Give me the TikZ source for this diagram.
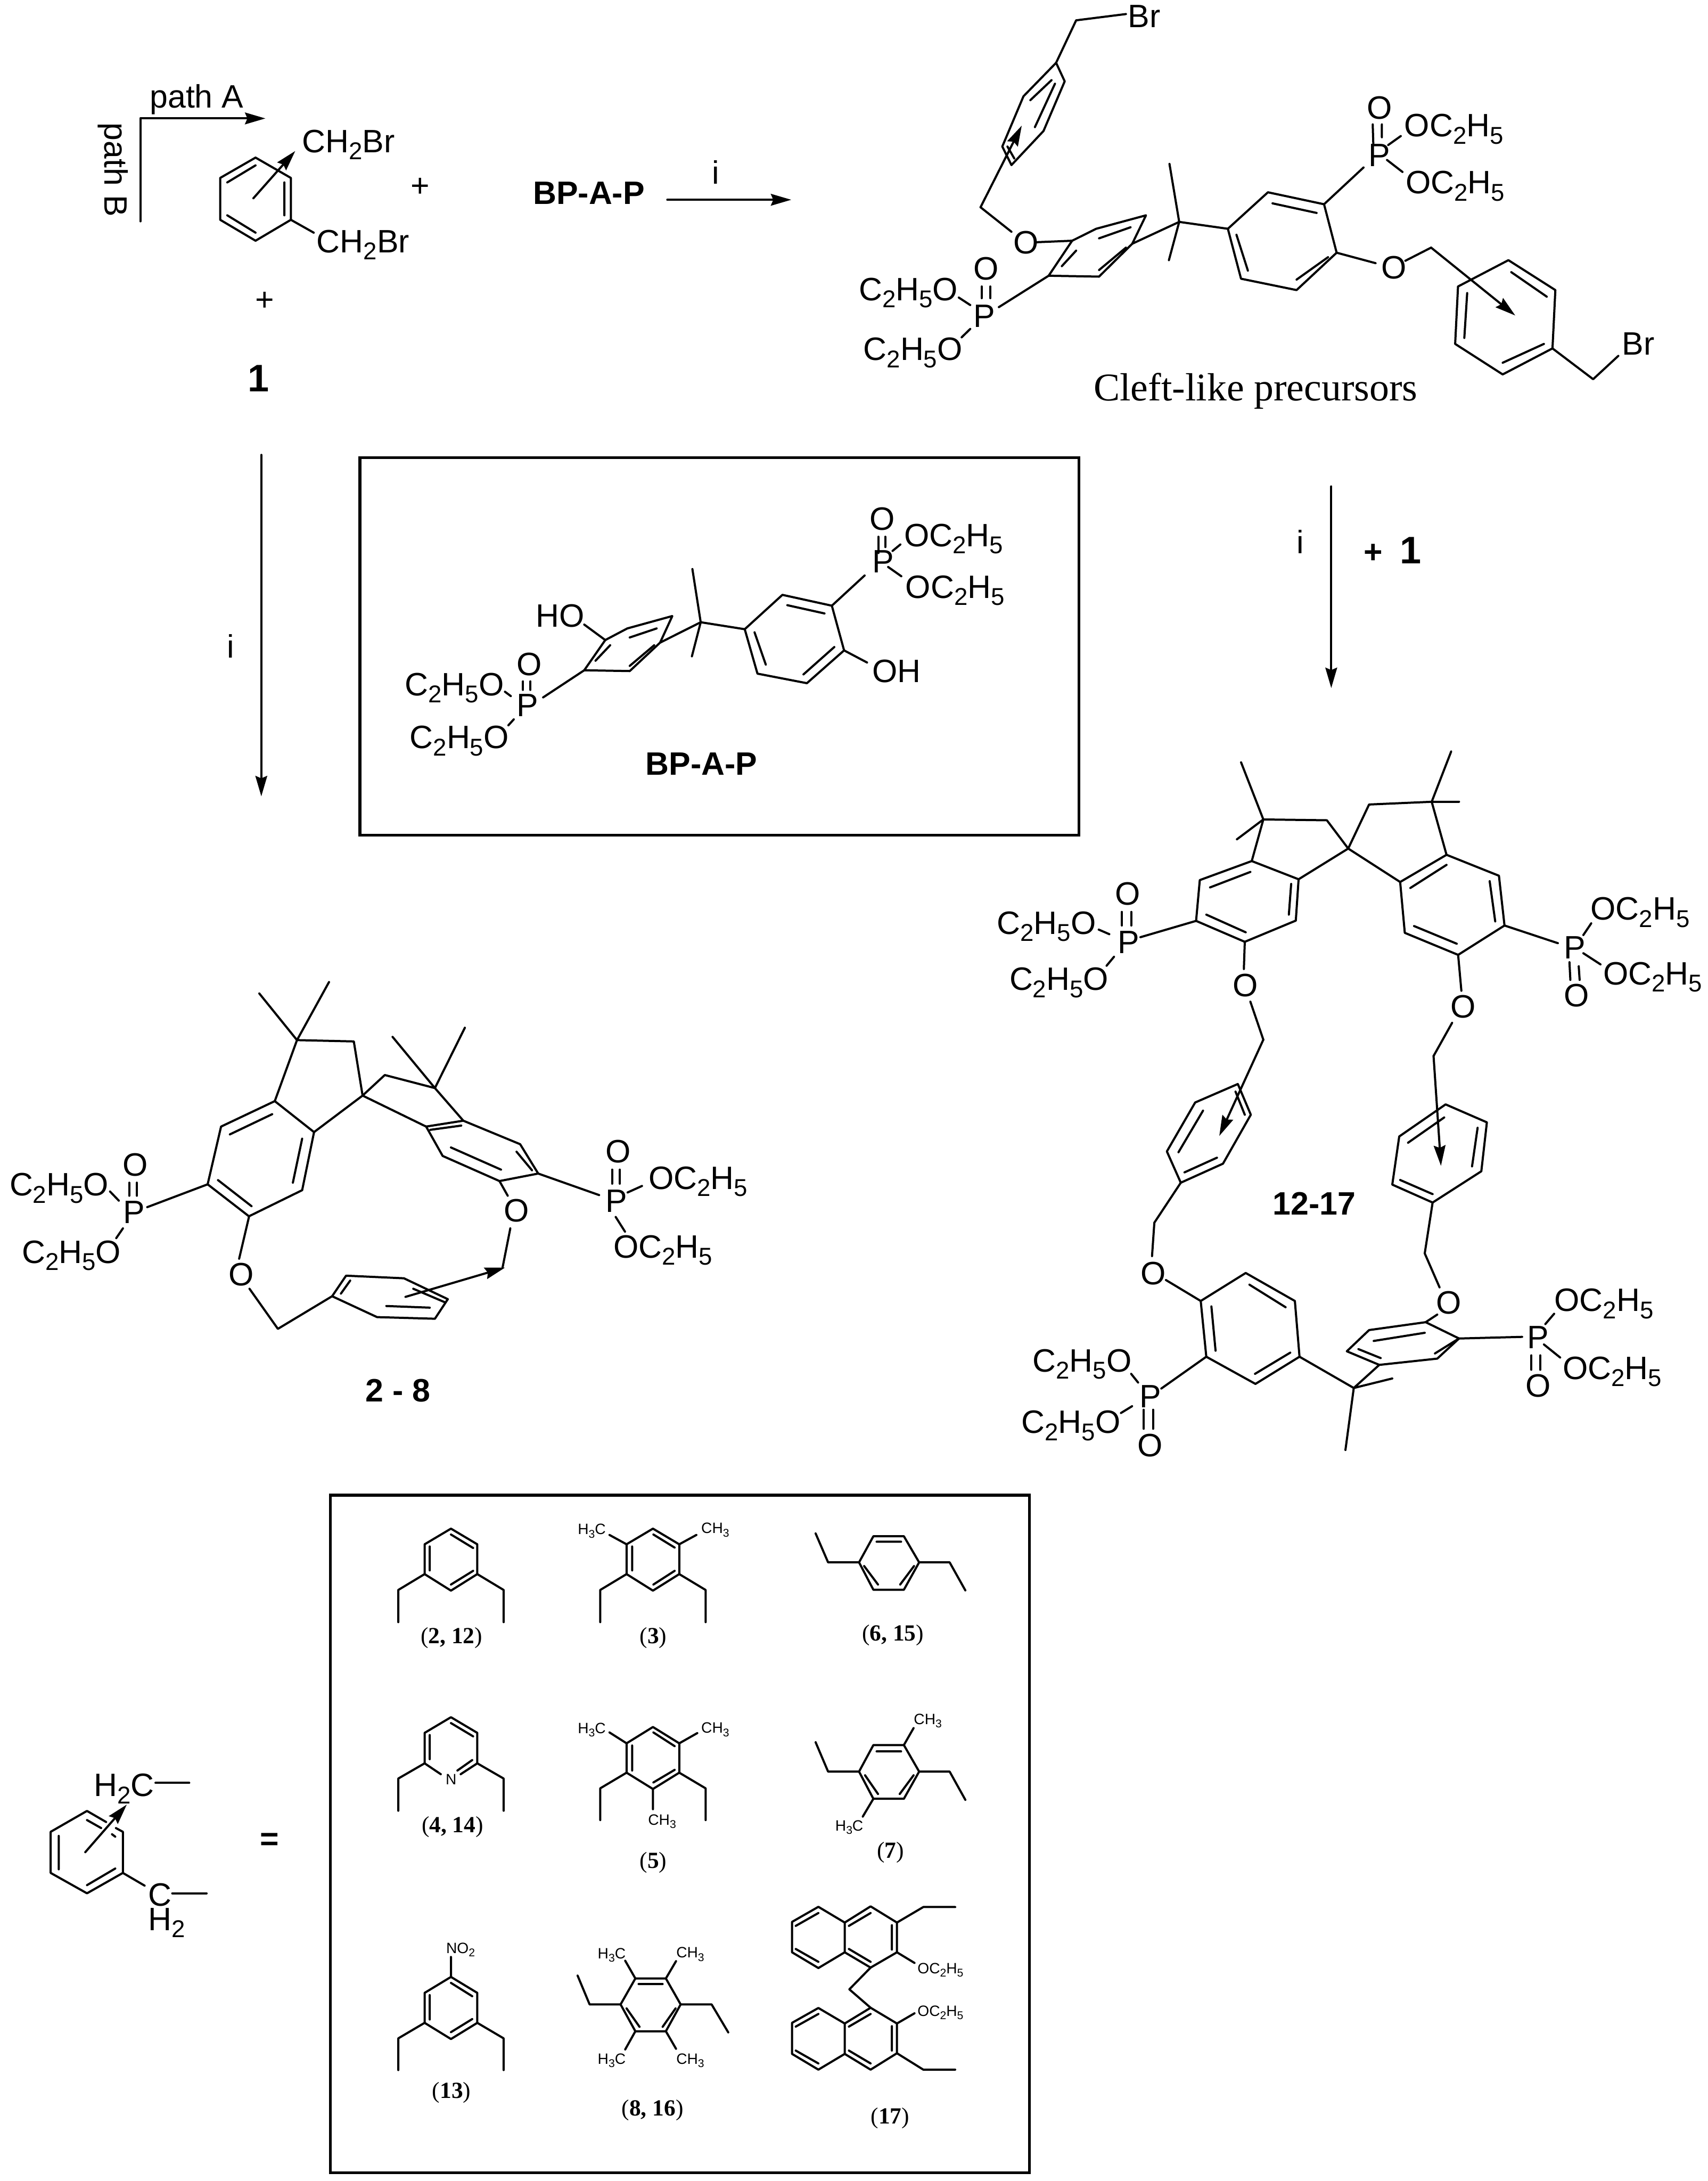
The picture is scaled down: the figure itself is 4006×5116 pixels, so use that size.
\documentclass[tikz,border=0pt]{standalone}
\usepackage{fontspec}
\setmainfont{Liberation Sans}
\newfontfamily\tmsfont{Liberation Serif}
\usetikzlibrary{arrows.meta}
\newcounter{lbl}
\newcommand{\sbs}[1]{\raisebox{-0.22em}{\scalebox{0.75}{#1}}}
\newcommand{\oet}{OC\sbs{2}H\sbs{5}}
\newcommand{\eto}{C\sbs{2}H\sbs{5}O}
\newcommand{\met}{CH\sbs{3}}
\newcommand{\hcm}{H\sbs{3}C}
\newcommand{\Tx}[3][chem]{\stepcounter{lbl}\node[#1] (t\thelbl) at (#2) {#3};}
\tikzset{
  bond/.style={line width=1.42pt,line cap=round,line join=round},
  frame/.style={line width=1.9pt},
  arr/.style={bond,-{Stealth[length=13.6pt,width=7.8pt,inset=1.6pt]}},
  chem/.style={anchor=base west,inner sep=0pt,font=\fontsize{21.6}{24}\selectfont},
  twoline/.style={anchor=base west,inner sep=0pt,align=left,font=\fontsize{21.6}{16.2}\selectfont},
  small/.style={anchor=base west,inner sep=0pt,font=\fontsize{10}{12}\selectfont},
  cmpd/.style={anchor=base west,inner sep=0pt,font=\tmsfont\fontsize{15.4}{18}\selectfont},
  cleft/.style={anchor=base west,inner sep=0pt,font=\tmsfont\fontsize{26.2}{30}\selectfont},
  boldl/.style={anchor=base west,inner sep=0pt,font=\bfseries\fontsize{21.6}{24}\selectfont},
  boldc/.style={inner sep=0pt,font=\bfseries\fontsize{21.6}{24}\selectfont},
  one/.style={inner sep=0pt,font=\bfseries\fontsize{25.6}{28}\selectfont},
  plain/.style={inner sep=0pt,font=\fontsize{21.6}{24}\selectfont},
}
\begin{document}
\begin{tikzpicture}[x=0.01cm,y=-0.01cm]
\path[use as bounding box] (0,0) rectangle (4006,5116);
% frames
\node[draw,frame,inner sep=0pt,minimum width=1687*0.01cm,minimum height=886*0.01cm,anchor=north west] (boxa) at (841,1070) {};
\node[draw,frame,inner sep=0pt,minimum width=1640*0.01cm,minimum height=1589*0.01cm,anchor=north west] (boxb) at (772,3504) {};
% long reaction arrows
\coordinate (la) at (613,1067); \coordinate (lb) at (613,1868);
\draw[arr] (la) -- (lb);
\Tx[plain]{541,1516}{i}
\coordinate (ra) at (3123,1141); \coordinate (rb) at (3123,1614);
\draw[arr] (ra) -- (rb);
\Tx[plain]{3051,1271}{i}
\Tx[boldc]{3221,1298}{+}
\Tx[one]{3309,1291}{1}
% --- top left reagent
\begin{scope}[xscale=1.2755,yscale=0.7015]
\coordinate (pa) at (258,740); \coordinate (pb) at (258,396); \coordinate (pc) at (488,396);
\draw[arr] (pa) -- (pb) -- (pc);
\Tx{275,360}{path A}
\Tx[chem,rotate=-90]{192,410}{path B}
\draw[bond] (470,527)--(535,595)--(535,735)--(470,805)--(405,735)--(405,595)--cycle;
\draw[bond] (418,610)--(470,553) (523,610)--(523,720) (418,720)--(470,778) (535,735)--(577,778);
\draw[arr] (466,663)--(543,505);
\Tx{555,510}{CH\sbs{2}Br}
\Tx{582,845}{CH\sbs{2}Br}
\Tx[plain]{773,627}{+}
\Tx[plain]{487,1007}{+}
\Tx[one]{475,1265}{1}
\Tx[boldl]{980,682}{BP-A-P}
\coordinate (ia) at (1227,668); \coordinate (ib) at (1455,668);
\draw[arr] (ia)--(ib);
\Tx{1309,615}{i}
\end{scope}
% --- cleft precursor
\begin{scope}[shift={(1900,0)},xscale=1.3431,yscale=0.7015]
\Tx{555,92}{Br}
\draw[bond] (552,47)--(465,68)--(430,210);
\draw[bond] (430,210)--(445,272)--(408,438)--(352,552)--(336,490)--(373,322)--cycle;
\draw[bond] (385,335)--(422,268) (393,425)--(428,280) (357,530)--(345,490);
\draw[bond] (352,775)--(298,693);
\draw[arr] (298,693)--(370,420);
\Tx{355,848}{O}
\draw[bond] (395,810)--(458,805);
\draw[bond] (458,805)--(500,765)--(587,720)--(563,815)--(505,925)--(417,922)--cycle;
\draw[bond] (505,797)--(560,760) (505,903)--(552,828) (440,890)--(465,838);
\draw[bond] (417,922)--(330,1027);
\Tx{285,1095}{P}
\Tx{285,935}{O}
\draw[bond] (300,958)--(300,997) (315,958)--(315,997);
\Tx{85,1005}{\eto}
\draw[bond] (260,995)--(280,1020);
\Tx{93,1205}{\eto}
\draw[bond] (265,1128)--(280,1100);
\draw[bond] (628,548)--(645,742)--(627,870);
\draw[bond] (563,815)--(645,742)--(730,765);
\draw[bond] (730,765)--(800,643)--(898,683)--(920,845)--(850,970)--(753,932)--cycle;
\draw[bond] (808,680)--(885,712) (745,785)--(765,905) (850,935)--(905,860);
\draw[bond] (898,683)--(967,560);
\Tx{975,557}{P}
\Tx{972,398}{O}
\draw[bond] (983,416)--(984,480) (999,416)--(999,459);
\Tx{1038,457}{\oet}
\draw[bond] (1010,485)--(1032,455);
\Tx{1040,648}{\oet}
\draw[bond] (1008,535)--(1035,575);
\draw[bond] (920,845)--(988,880);
\Tx{998,932}{O}
\draw[bond] (1040,872)--(1085,828);
\draw[arr] (1085,828)--(1232,1055);
\draw[bond] (1220,870)--(1302,970)--(1297,1165)--(1210,1252)--(1127,1150)--(1132,958)--cycle;
\draw[bond] (1225,910)--(1287,992) (1148,980)--(1143,1130) (1210,1213)--(1282,1150);
\draw[bond] (1297,1165)--(1368,1268)--(1412,1190);
\Tx{1418,1187}{Br}
\Tx[cleft]{495,1340}{Cleft-like precursors}
\end{scope}
% --- BP-A-P
\begin{scope}[shift={(800,1050)},xscale=1.148,yscale=0.6059]
\draw[bond] (540,745)--(585,700)--(677,652)--(652,755)--(590,865)--(497,862)--cycle;
\draw[bond] (590,735)--(645,700) (590,845)--(640,765) (520,825)--(550,765);
\Tx{398,695}{HO}
\draw[bond] (497,685)--(540,745);
\draw[bond] (497,862)--(413,967);
\Tx{358,1040}{P}
\Tx{358,882}{O}
\draw[bond] (372,905)--(372,938) (387,905)--(387,938);
\Tx{130,960}{\eto}
\draw[bond] (335,945)--(347,962);
\Tx{140,1165}{\eto}
\draw[bond] (342,1075)--(353,1052);
\draw[bond] (718,470)--(735,676)--(717,808);
\draw[bond] (652,755)--(735,676)--(825,703);
\draw[bond] (825,703)--(902,570)--(1003,612)--(1028,785)--(952,912)--(851,875)--cycle;
\draw[bond] (912,610)--(988,642) (845,715)--(868,840) (945,878)--(1008,772);
\draw[bond] (1003,612)--(1070,495);
\Tx{1085,485}{P}
\Tx{1080,320}{O}
\draw[bond] (1098,345)--(1098,408) (1112,345)--(1112,385);
\Tx{1150,383}{\oet}
\draw[bond] (1127,400)--(1143,375);
\Tx{1153,583}{\oet}
\draw[bond] (1118,462)--(1145,498);
\Tx{1085,908}{OH}
\draw[bond] (1028,785)--(1075,832);
\Tx[boldl]{622,1268}{BP-A-P}
\end{scope}
% --- 2-8
\begin{scope}[shift={(0,2250)},xscale=1.2117,yscale=0.7653]
\draw[bond] (502,105)--(575,248)--(637,70);
\draw[bond] (532,435)--(575,248)--(685,252)--(702,418);
\draw[bond] (532,435)--(428,513)--(402,690)--(482,788)--(585,708)--(608,530)--cycle;
\draw[bond] (445,537)--(527,475) (422,677)--(487,757) (567,685)--(585,550);
\draw[bond] (608,530)--(702,418);
\draw[bond] (702,418)--(745,355)--(842,395);
\draw[bond] (760,238)--(842,395)--(900,210);
\draw[bond] (842,395)--(897,495);
\draw[bond] (702,418)--(825,513);
\draw[bond] (825,513)--(897,495)--(1007,567)--(1042,657)--(967,680)--(857,603)--cycle;
\draw[bond] (833,523)--(893,510) (873,577)--(970,645) (1000,590)--(1030,647);
\draw[bond] (1042,657)--(1160,723);
\Tx{1172,775}{P}
\Tx{1172,623}{O}
\draw[bond] (1185,645)--(1185,688) (1200,645)--(1200,688);
\Tx{1255,705}{\oet}
\draw[bond] (1215,715)--(1243,695);
\Tx{1187,915}{\oet}
\draw[bond] (1192,790)--(1210,835);
\draw[bond] (967,680)--(983,725);
\Tx{975,805}{O}
\draw[bond] (988,825)--(973,945);
\draw[bond] (670,970)--(782,978)--(867,1042)--(842,1102)--(730,1097)--(643,1033)--cycle;
\draw[bond] (660,1025)--(678,985) (800,1010)--(862,1052) (748,1063)--(832,1068);
\draw[arr] (785,1035)--(978,945);
\draw[bond] (643,1033)--(538,1133)--(483,1010);
\Tx{442,1000}{O}
\draw[bond] (482,790)--(463,918);
\draw[bond] (402,690)--(285,760);
\Tx{238,810}{P}
\Tx{237,665}{O}
\draw[bond] (250,685)--(250,725) (265,685)--(265,725);
\Tx{18,725}{\eto}
\draw[bond] (213,712)--(230,740);
\Tx{42,932}{\eto}
\draw[bond] (238,825)--(225,855);
\Tx[boldl]{707,1357}{2 - 8}
\end{scope}
% --- 12-17 upper half
\begin{scope}[shift={(2300,1750)},xscale=1.088,yscale=0.6378]
\draw[bond] (793,377)--(747,273)--(610,270);
\draw[bond] (562,60)--(610,270)--(553,343);
\draw[bond] (610,270)--(585,423);
\draw[bond] (585,423)--(473,493)--(465,643)--(570,720)--(680,642)--(686,490)--cycle;
\draw[bond] (495,520)--(582,463) (487,620)--(572,685) (665,620)--(670,507);
\draw[bond] (686,490)--(793,377);
\draw[bond] (793,377)--(838,215)--(973,205);
\draw[bond] (1015,20)--(973,205)--(1032,205);
\draw[bond] (973,205)--(1005,400);
\draw[bond] (793,377)--(905,500);
\draw[bond] (905,500)--(1005,400)--(1118,477)--(1130,660)--(1030,768)--(915,687)--cycle;
\draw[bond] (927,522)--(1005,437) (1098,497)--(1110,645) (935,662)--(1027,727);
\draw[bond] (1130,660)--(1245,725);
\Tx{1258,782}{P}
\Tx{1258,958}{O}
\draw[bond] (1270,795)--(1272,860) (1290,810)--(1292,860);
\Tx{1315,640}{\oet}
\draw[bond] (1300,695)--(1317,652);
\Tx{1342,878}{\oet}
\draw[bond] (1300,762)--(1337,803);
\draw[bond] (1030,768)--(1037,900);
\Tx{1013,1000}{O}
\draw[bond] (1017,1018)--(977,1140);
\draw[bond] (570,720)--(568,820);
\Tx{543,922}{O}
\draw[bond] (582,940)--(610,1080);
\draw[bond] (465,643)--(345,703);
\Tx{295,763}{P}
\Tx{290,585}{O}
\draw[bond] (305,610)--(305,660) (325,610)--(325,660);
\Tx{35,692}{\eto}
\draw[bond] (255,675)--(278,692);
\Tx{62,898}{\eto}
\draw[bond] (288,775)--(272,808);
\end{scope}
% --- 12-17 lower half
\begin{scope}[shift={(2300,2500)},xscale=1.088,yscale=0.6378]
\draw[arr] (977,-36)--(993,368);
\draw[arr] (610,-96)--(515,258);
\draw[bond] (555,67)--(583,180)--(523,360)--(432,430)--(402,315)--(463,135)--cycle;
\draw[bond] (550,95)--(570,180) (480,165)--(427,318) (440,392)--(510,338);
\draw[bond] (432,430)--(375,577)--(370,700);
\Tx{345,805}{O}
\draw[bond] (400,788)--(475,865);
\draw[bond] (475,865)--(572,762)--(678,865)--(688,1070)--(593,1170)--(487,1070)--cycle;
\draw[bond] (580,805)--(658,888) (592,1133)--(668,1055) (498,885)--(507,1048);
\draw[bond] (487,1070)--(390,1187);
\Tx{343,1258}{P}
\Tx{338,1437}{O}
\draw[bond] (352,1265)--(352,1335) (372,1265)--(372,1335);
\Tx{112,1125}{\eto}
\draw[bond] (325,1133)--(340,1165);
\Tx{88,1352}{\eto}
\draw[bond] (303,1277)--(327,1252);
\draw[bond] (688,1070)--(805,1185)--(787,1413);
\draw[bond] (888,1150)--(805,1185)--(860,1100);
\draw[bond] (860,1100)--(790,1050)--(838,972)--(960,943)--(1032,1003)--(985,1077)--cycle;
\draw[bond] (815,1042)--(863,1075) (848,1012)--(958,982) (980,1058)--(1028,1007);
\draw[bond] (960,943)--(985,915);
\Tx{982,913}{O}
\draw[bond] (990,815)--(958,690)--(975,503);
\draw[bond] (1003,142)--(1092,208)--(1080,388)--(975,503)--(888,437)--(903,260)--cycle;
\draw[bond] (922,283)--(1000,190) (1072,228)--(1060,370) (905,420)--(975,472);
\draw[bond] (1032,1003)--(1168,997);
\Tx{1178,1040}{P}
\Tx{1175,1217}{O}
\draw[bond] (1188,1065)--(1188,1118) (1207,1065)--(1207,1118);
\Tx{1237,903}{\oet}
\draw[bond] (1218,950)--(1237,912);
\Tx{1255,1153}{\oet}
\draw[bond] (1215,1025)--(1250,1073);
\Tx[boldl]{630,548}{12-17}
\end{scope}
% --- key, upper part
\begin{scope}[shift={(750,3500)},xscale=1.0842,yscale=0.5102]
\draw[bond] (284,168)--(341,240)--(341,377)--(284,453)--(227,377)--(227,240)--cycle;
\draw[bond] (284,195)--(332,257) (238,250)--(238,360) (284,425)--(332,362);
\draw[bond] (227,377)--(170,450)--(170,598) (341,377)--(398,450)--(398,598);
\Tx[cmpd]{218,695}{(\textbf{2, 12})}
\draw[bond] (721,168)--(778,240)--(778,377)--(721,453)--(664,377)--(664,240)--cycle;
\draw[bond] (722,195)--(768,255) (676,250)--(676,360) (722,425)--(768,362);
\draw[bond] (664,377)--(607,450)--(607,598) (778,377)--(835,450)--(835,598);
\draw[bond] (664,240)--(627,197) (778,240)--(815,197);
\Tx[small]{558,195}{\hcm}
\Tx[small]{825,190}{\met}
\Tx[cmpd]{692,695}{(\textbf{3})}
\draw[bond] (1198,203)--(1264,203)--(1297,323)--(1264,449)--(1198,449)--(1167,323)--cycle;
\draw[bond] (1205,228)--(1258,228) (1178,340)--(1208,425) (1286,340)--(1256,425);
\draw[bond] (1167,323)--(1100,323)--(1073,190) (1297,323)--(1363,323)--(1397,452);
\Tx[cmpd]{1173,683}{(\textbf{6, 15})}
\draw[bond] (227,1247)--(227,1107)--(284,1035)--(341,1107)--(341,1247);
\draw[bond] (227,1247)--(262,1297) (341,1247)--(305,1297) (298,1280)--(330,1232) (238,1117)--(238,1228) (284,1062)--(332,1123);
\Tx[small]{272,1345}{N}
\draw[bond] (227,1247)--(170,1317)--(170,1465) (341,1247)--(398,1317)--(398,1465);
\Tx[cmpd]{220,1566}{(\textbf{4, 14})}
\draw[bond] (721,1080)--(778,1155)--(778,1290)--(721,1365)--(664,1290)--(664,1155)--cycle;
\draw[bond] (722,1105)--(768,1168) (676,1165)--(676,1280) (722,1335)--(768,1277);
\draw[bond] (664,1155)--(627,1105) (778,1155)--(817,1108);
\Tx[small]{558,1110}{\hcm}
\Tx[small]{825,1108}{\met}
\draw[bond] (664,1290)--(607,1362)--(607,1508) (778,1290)--(835,1362)--(835,1508) (721,1365)--(721,1458);
\Tx[small]{710,1530}{\met}
\draw[bond] (1198,1163)--(1264,1163)--(1297,1285)--(1264,1410)--(1198,1410)--(1167,1285)--cycle;
\draw[bond] (1205,1192)--(1258,1192) (1180,1302)--(1208,1388) (1285,1302)--(1255,1388);
\draw[bond] (1167,1285)--(1100,1285)--(1073,1150) (1297,1285)--(1363,1285)--(1397,1415);
\draw[bond] (1264,1163)--(1285,1085) (1198,1410)--(1175,1492);
\Tx[small]{1285,1068}{\met}
\Tx[small]{1115,1558}{\hcm}
\end{scope}
% --- key, lower part
\begin{scope}[shift={(750,4300)},xscale=1.0842,yscale=0.5204]
\Tx[cmpd]{692,157}{(\textbf{5})}
\Tx[cmpd]{1205,113}{(\textbf{7})}
\draw[bond] (284,648)--(341,720)--(341,855)--(284,928)--(227,855)--(227,720)--cycle;
\draw[bond] (284,675)--(330,735) (238,730)--(238,840) (284,897)--(330,838) (284,648)--(284,558);
\Tx[small]{273,542}{NO\sbs{2}}
\draw[bond] (227,855)--(170,925)--(170,1068) (341,855)--(398,925)--(398,1068);
\Tx[cmpd]{243,1195}{(\textbf{13})}
\draw[bond] (683,655)--(749,655)--(781,772)--(749,893)--(683,893)--(651,772)--cycle;
\draw[bond] (690,680)--(742,680) (664,790)--(692,873) (770,790)--(742,873);
\draw[bond] (651,772)--(584,772)--(558,642) (781,772)--(848,772)--(884,898);
\draw[bond] (683,655)--(661,575) (749,655)--(771,577) (683,893)--(661,975) (749,893)--(771,972);
\Tx[small]{601,565}{\hcm}
\Tx[small]{771,562}{\met}
\Tx[small]{601,1040}{\hcm}
\Tx[small]{771,1040}{\met}
\Tx[cmpd]{653,1275}{(\textbf{8, 16})}
\draw[bond] (1079,332)--(1136,403)--(1136,537)--(1079,608)--(1022,537)--(1022,400)--cycle;
\draw[bond] (1030,418)--(1079,360) (1030,522)--(1079,580);
\draw[bond] (1136,403)--(1192,330)--(1249,403)--(1249,537)--(1192,606)--(1136,537);
\draw[bond] (1145,418)--(1192,360) (1238,415)--(1238,525) (1145,522)--(1192,580);
\draw[bond] (1249,403)--(1306,333)--(1375,333) (1249,537)--(1287,585);
\Tx[small]{1293,633}{\oet}
\draw[bond] (1192,606)--(1146,704)--(1192,787);
\draw[bond] (1079,788)--(1136,858)--(1136,995)--(1079,1066)--(1022,995)--(1022,855)--cycle;
\draw[bond] (1030,872)--(1079,815) (1030,980)--(1079,1038);
\draw[bond] (1136,858)--(1192,787)--(1249,858)--(1249,992)--(1192,1066)--(1136,995);
\draw[bond] (1145,872)--(1192,815) (1238,870)--(1238,980) (1145,980)--(1192,1038);
\draw[bond] (1249,858)--(1287,812) (1249,992)--(1306,1066)--(1375,1066);
\Tx[small]{1293,825}{\oet}
\Tx[cmpd]{1192,1310}{(\textbf{17})}
\end{scope}
% --- generic linker
\begin{scope}[shift={(0,4050)},xscale=0.5102,yscale=0.3827]
\draw[bond] (488,585)--(400,517)--(233,645)--(233,897)--(400,1022)--(565,897)--(565,645)--(533,622);
\draw[bond] (400,573)--(465,622) (515,660)--(530,675) (270,670)--(270,875) (400,972)--(530,870);
\draw[arr] (392,770)--(583,478);
\draw[bond] (565,897)--(665,975);
\Tx{430,428}{H\sbs{2}C}
\draw[bond] (715,345)--(870,345);
\Tx[twoline]{680,1250}{C\\H\sbs{2}}
\draw[bond] (792,1022)--(950,1022);
\Tx[boldc]{1240,705}{=}
\end{scope}
\end{tikzpicture}
\end{document}
